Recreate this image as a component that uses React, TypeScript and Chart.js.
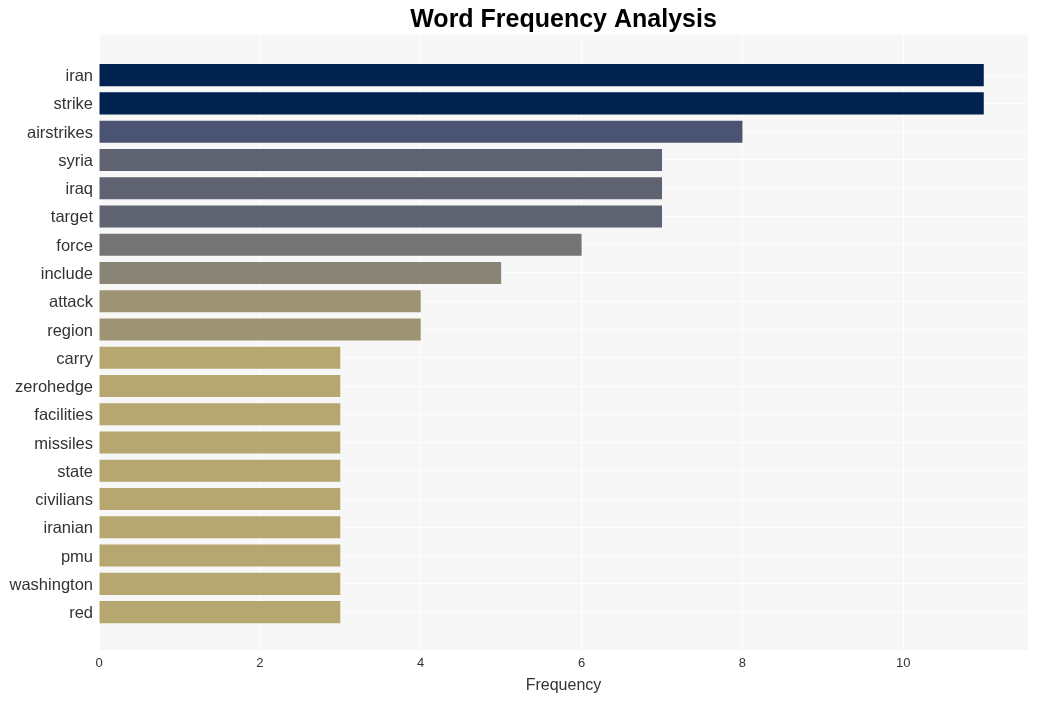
import React, { useEffect, useRef } from "react";
import { Chart, registerables } from "chart.js";

Chart.register(...registerables);

const words = [
  "iran", "strike", "airstrikes", "syria", "iraq", "target", "force", "include",
  "attack", "region", "carry", "zerohedge", "facilities", "missiles", "state",
  "civilians", "iranian", "pmu", "washington", "red",
];
const counts = [11, 11, 8, 7, 7, 7, 6, 5, 4, 4, 3, 3, 3, 3, 3, 3, 3, 3, 3, 3];
const barColors = [
  "#00224e", "#00224e", "#4a5372", "#5f6271", "#5f6271", "#5f6271", "#747475",
  "#888577", "#9d9474", "#9d9474", "#b5a76f", "#b5a76f", "#b5a76f", "#b5a76f",
  "#b5a76f", "#b5a76f", "#b5a76f", "#b5a76f", "#b5a76f", "#b5a76f",
];
const xTicks = [0, 2, 4, 6, 8, 10];

const plotBg = {
  id: "plotBg",
  beforeDraw(chart: any) {
    const { ctx, chartArea } = chart;
    ctx.save();
    ctx.fillStyle = "#f7f7f7";
    ctx.fillRect(chartArea.left, chartArea.top, chartArea.right - chartArea.left, chartArea.bottom - chartArea.top);
    ctx.restore();
  },
};

export default function App() {
  const ref = useRef<HTMLCanvasElement | null>(null);
  useEffect(() => {
    document.body.style.margin = "0";
    const font = "Arial, 'Liberation Sans', Helvetica, sans-serif";
    const chart = new Chart(ref.current!, {
      type: "bar",
      data: {
        datasets: [
          {
            data: counts.map((v, i) => ({ x: v, y: i })) as any,
            backgroundColor: barColors,
            borderWidth: 0,
            barPercentage: 0.78,
            categoryPercentage: 1,
          },
        ],
      },
      plugins: [plotBg],
      options: {
        indexAxis: "y",
        animation: false,
        responsive: false,
        maintainAspectRatio: false,
        layout: { padding: { left: 0, right: 10, top: 0, bottom: 0 } },
        plugins: {
          legend: { display: false },
          tooltip: { enabled: false },
          title: {
            display: true,
            text: "Word Frequency Analysis",
            fullSize: false,
            color: "#000",
            font: { family: font, size: 25, weight: "bold" },
            padding: { top: 5, bottom: 0 },
          },
        },
        scales: {
          y: {
            type: "linear",
            reverse: true,
            offset: false,
            min: -1.42,
            max: 20.34,
            afterBuildTicks: (scale: any) => {
              scale.ticks = words.map((_, i) => ({ value: i }));
            },
            afterFit: (scale: any) => {
              scale.width = 99;
            },
            ticks: {
              autoSkip: false,
              padding: 6,
              labelOffset: 1.5,
              color: "#333",
              font: { family: font, size: 16.5 },
              callback: (v: any) => words[v as number] ?? "",
            },
            grid: { color: "#ffffff", lineWidth: 1, drawTicks: false, offset: false },
            border: { display: false },
          },
          x: {
            type: "linear",
            min: 0,
            max: 11.55,
            afterBuildTicks: (scale: any) => {
              scale.ticks = xTicks.map((v) => ({ value: v }));
            },
            afterFit: (scale: any) => {
              scale.height = 51;
            },
            ticks: {
              padding: 6,
              color: "#333",
              font: { family: font, size: 13 },
            },
            grid: { color: "#ffffff", lineWidth: 1, drawTicks: false },
            border: { display: false },
            title: {
              display: true,
              text: "Frequency",
              color: "#333",
              font: { family: font, size: 16 },
              padding: { top: 0, bottom: 6 },
            },
          },
        },
      },
    });
    return () => chart.destroy();
  }, []);
  return <canvas ref={ref} width={1038} height={701} style={{ display: "block" }} />;
}
